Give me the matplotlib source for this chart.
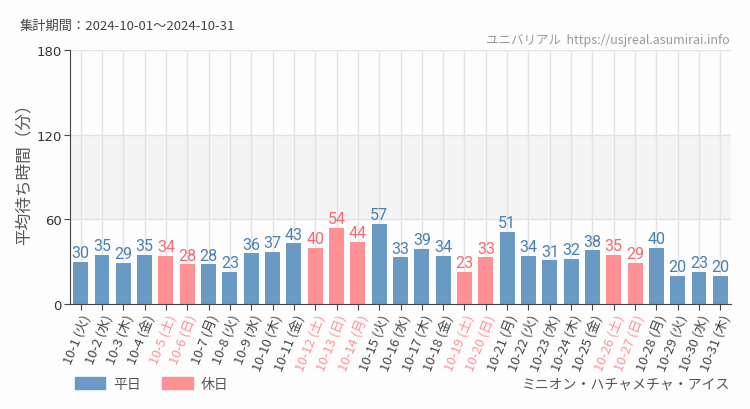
import numpy as np
import matplotlib
matplotlib.use('Agg')
import matplotlib.pyplot as plt
from matplotlib.patches import Patch

plt.rcParams['font.family'] = ['Noto Sans CJK JP', 'DejaVu Sans']

# data
dates = [f'10-{d}' for d in range(1, 32)]
weekdays = ['火', '水', '木', '金', '土', '日', '月', '火', '水', '木', '金', '土', '日', '月',
            '火', '水', '木', '金', '土', '日', '月', '火', '水', '木', '金', '土', '日', '月',
            '火', '水', '木']
waits = [30, 35, 29, 35, 34, 28, 28, 23, 36, 37, 43, 40, 54, 44, 57, 33, 39, 34, 23, 33,
         51, 34, 31, 32, 38, 35, 29, 40, 20, 23, 20]
holidays = ['10-5', '10-6', '10-12', '10-13', '10-14', '10-19', '10-20', '10-26', '10-27']
yticks = [0, 60, 120, 180]

BLUE = '#6a9ac4'
RED = '#ff9195'
BLUE_TXT = '#4a7fb6'
RED_TXT = '#f26b72'
BG = '#fcfdfc'

fig = plt.figure(figsize=(7.5, 4.1), dpi=100, facecolor=BG)
ax = fig.add_axes([70 / 750, 1 - 305 / 410, 661 / 750, 254 / 410])
ax.set_facecolor(BG)

x = np.arange(len(dates))
is_hol = [d in holidays for d in dates]
colors = [RED if h else BLUE for h in is_hol]

ax.axhspan(60, 120, color='#f3f4f3', zorder=0)
for xi in x:
    ax.axvline(xi, color='#e3e3e3', lw=1, zorder=0.5)
for yv in yticks[1:]:
    ax.axhline(yv, color='#e3e3e3', lw=1, zorder=0.5)

ax.bar(x, waits, width=0.7, color=colors, zorder=2)

for xi, v, h in zip(x, waits, is_hol):
    ax.text(xi, v + 1.2, str(v), ha='center', va='bottom', fontsize=11.5,
            family='Roboto', color=RED_TXT if h else BLUE_TXT, zorder=3)

ax.set_xlim(-0.5, len(dates) - 0.5)
ax.set_ylim(0, 180)
ax.set_yticks(yticks)
ax.set_yticklabels([str(t) for t in yticks], fontsize=9.5, color='#333333', family='DejaVu Sans')
ax.set_xticks(x)
labels = [f'{d} ({w})' for d, w in zip(dates, weekdays)]
ax.set_xticklabels(labels, rotation=68, ha='right', rotation_mode='anchor', fontsize=9.5)
for lbl, h in zip(ax.get_xticklabels(), is_hol):
    lbl.set_color(RED if h else '#444444')

for side in ['top', 'right']:
    ax.spines[side].set_visible(False)
ax.spines['left'].set_color('#444444')
ax.spines['bottom'].set_color('#444444')
ax.tick_params(axis='both', length=4, color='#444444', pad=2)

ax.set_ylabel('平均待ち時間（分）', fontsize=12, color='#555555')
ax.yaxis.set_label_coords(-0.056, 0.53)

fig.text(20 / 750, 1 - 26 / 410, '集計期間：2024-10-01～2024-10-31',
         fontsize=9.5, color='#444444', va='center', ha='left')
fig.text(730 / 750, 1 - 40 / 410, 'ユニバリアル  https://usjreal.asumirai.info',
         fontsize=9, color='#999999', va='center', ha='right')
fig.text(730 / 750, 1 - 385 / 410, 'ミニオン・ハチャメチャ・アイス',
         fontsize=10, color='#555555', va='center', ha='right')

handles = [Patch(color=BLUE, label='平日'), Patch(color=RED, label='休日')]
fig.legend(handles=handles, loc='center left', bbox_to_anchor=(62 / 750, 1 - 385 / 410),
           ncol=2, frameon=False, fontsize=10, handlelength=2.2, handleheight=0.9,
           columnspacing=1.5, handletextpad=0.6, labelcolor='#555555')

fig.savefig('out.png', dpi=100, facecolor=BG)
